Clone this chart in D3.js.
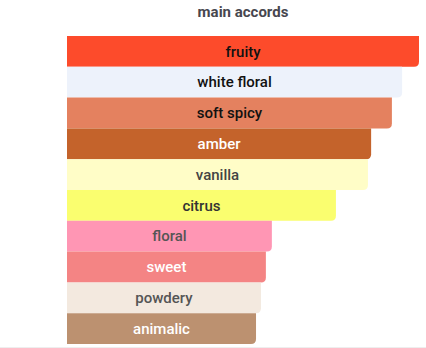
<!DOCTYPE html>
<html>
<head>
<meta charset="utf-8">
<script src="https://cdn.jsdelivr.net/npm/d3@7"></script>
<style>
  body { margin: 0; background: #fff; }
  svg { display: block; font-family: Roboto, sans-serif; }
</style>
</head>
<body>
<div id="chart"></div>
<script>
'use strict';

var accords = ['fruity', 'white floral', 'soft spicy', 'amber', 'vanilla', 'citrus', 'floral', 'sweet', 'powdery', 'animalic'];
var strength = [100, 95.2, 92.3, 86.4, 85.5, 76.4, 58.2, 56.5, 55.1, 53.7];
var fills = ['#fd4b2b', '#edf2fb', '#e4815f', '#c4632b', '#fffdc7', '#fafe6f', '#ff96b4', '#f48484', '#f3e9df', '#bc9170'];
var textColors = ['#111', '#111', '#111', '#fff', '#444', '#333', '#555', '#fff', '#555', '#fff'];

var width = 426, height = 348;

var svg = d3.select('#chart').append('svg')
	.attr('width', width)
	.attr('height', height);

var x = d3.scaleLinear().domain([0, 100]).range([67, 419]);
var y = d3.scaleBand().domain(accords).range([36, 344]).padding(0);

var data = accords.map(function(d, i) {
	return {name: d, value: strength[i], fill: fills[i], text: textColors[i]};
});

// bar with only the bottom-right corner rounded
function barPath(d) {
	var x0 = x(0), x1 = x(d.value), y0 = y(d.name), y1 = y0 + y.bandwidth(), r = 5;
	return 'M' + x0 + ',' + y0 +
		'H' + x1 +
		'V' + (y1 - r) +
		'Q' + x1 + ',' + y1 + ' ' + (x1 - r) + ',' + y1 +
		'H' + x0 + 'Z';
}

svg.append('text')
	.attr('x', 243)
	.attr('y', 17)
	.attr('text-anchor', 'middle')
	.style('font-size', '15px')
	.style('font-weight', 'bold')
	.style('fill', '#47474f')
	.text('main accords');

var bars = svg.append('g').attr('class', 'bars')
	.selectAll('g.bar').data(data)
	.enter().append('g')
	.attr('class', 'bar');

bars.append('path')
	.attr('d', barPath)
	.style('fill', function(d) { return d.fill; });

bars.append('text')
	.attr('x', function(d) { return (x(0) + x(d.value)) / 2; })
	.attr('y', function(d) { return y(d.name) + y.bandwidth() / 2; })
	.attr('dy', '0.35em')
	.attr('text-anchor', 'middle')
	.style('font-size', '15px')
	.style('font-weight', 500)
	.style('fill', function(d) { return d.text; })
	.text(function(d) { return d.name; });

svg.append('line')
	.attr('x1', 0).attr('x2', width)
	.attr('y1', 347.5).attr('y2', 347.5)
	.style('stroke', '#eee');
</script>
</body>
</html>
